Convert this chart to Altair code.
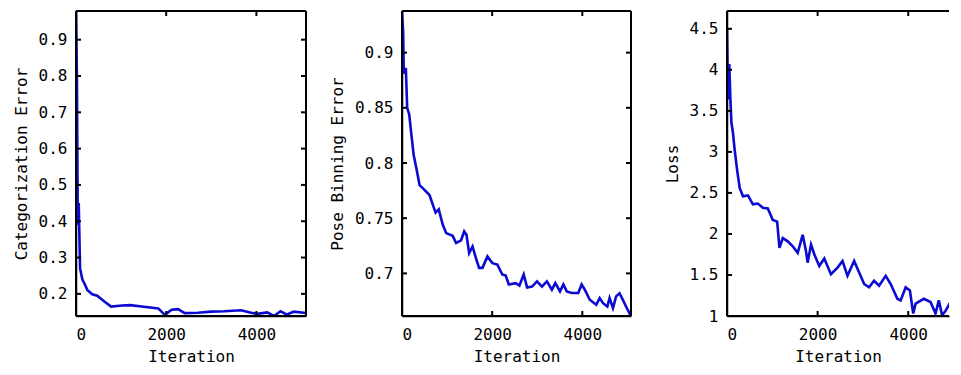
import altair as alt
import pandas as pd

# ---------------- data ----------------
cat_iter = [0, 20, 40, 60, 90, 140, 200, 250, 360, 470, 540, 650, 780, 1020, 1200, 1460,
            1825, 1970, 2120, 2265, 2410, 2700, 3000, 3290, 3660, 3880, 4020, 4240, 4390,
            4535, 4680, 4830, 5050, 5100]
cat_err = [0.979, 0.80, 0.39, 0.45, 0.27, 0.24, 0.225, 0.211, 0.199, 0.195, 0.188, 0.177,
           0.165, 0.168, 0.169, 0.165, 0.160, 0.142, 0.156, 0.158, 0.147, 0.148, 0.151,
           0.152, 0.155, 0.148, 0.145, 0.149, 0.139, 0.152, 0.143, 0.151, 0.148, 0.147]

pose_iter = [0, 25, 40, 85, 115, 160, 210, 260, 320, 390, 465, 610, 685, 745, 815, 905, 980,
             1125, 1200, 1310, 1380, 1430, 1490, 1565, 1640, 1710, 1785, 1895, 2005, 2115,
             2225, 2300, 2370, 2520, 2605, 2700, 2775, 2885, 2995, 3105, 3215, 3325, 3400,
             3505, 3580, 3655, 3765, 3910, 3985, 4055, 4165, 4310, 4385, 4460, 4555, 4605,
             4680, 4750, 4825, 4900, 4970, 5080]
pose_err = [0.937, 0.919, 0.881, 0.886, 0.85, 0.844, 0.825, 0.807, 0.795, 0.78, 0.777,
            0.771, 0.762, 0.755, 0.758, 0.744, 0.7365, 0.734, 0.7275, 0.730, 0.738, 0.735,
            0.7184, 0.7244, 0.7138, 0.705, 0.705, 0.7154, 0.7093, 0.708, 0.699, 0.698, 0.69,
            0.6912, 0.689, 0.699, 0.6873, 0.688, 0.6928, 0.688, 0.6928, 0.6852, 0.6912,
            0.6837, 0.690, 0.6837, 0.6822, 0.6822, 0.690, 0.6852, 0.6761, 0.6716, 0.6777,
            0.673, 0.670, 0.6777, 0.6686, 0.6792, 0.682, 0.676, 0.670, 0.661]

loss_iter = [0, 22, 50, 75, 97, 130, 170, 228, 280, 352, 462, 572, 681, 791, 901, 1011, 1107,
             1158, 1231, 1341, 1451, 1561, 1670, 1744, 1780, 1855, 1928, 2037, 2147, 2294,
             2440, 2550, 2660, 2806, 2917, 3027, 3136, 3246, 3356, 3503, 3613, 3760, 3833,
             3943, 4037, 4110, 4163, 4345, 4492, 4602, 4675, 4748, 4822, 4932, 5010]
loss_val = [4.5, 3.64, 4.07, 3.64, 3.36, 3.24, 3.02, 2.76, 2.56, 2.46, 2.47, 2.36, 2.37, 2.32,
            2.31, 2.17, 2.15, 1.83, 1.95, 1.91, 1.85, 1.77, 1.99, 1.79, 1.65, 1.87, 1.75, 1.61,
            1.70, 1.51, 1.59, 1.67, 1.49, 1.67, 1.53, 1.39, 1.35, 1.43, 1.37, 1.49, 1.39, 1.21,
            1.19, 1.35, 1.31, 1.03, 1.15, 1.21, 1.17, 1.03, 1.19, 1.01, 1.06, 1.17, 1.21]

x_ticks = [0, 2000, 4000]
cat_ticks = [0.2, 0.3, 0.4, 0.5, 0.6, 0.7, 0.8, 0.9]
pose_ticks = [0.7, 0.75, 0.8, 0.85, 0.9]
loss_ticks = [1, 1.5, 2, 2.5, 3, 3.5, 4, 4.5]

FONT = "DejaVu Sans Mono"
BLUE = "#0a0ad2"
H = 305
TICK = 5
LW = 2


def panel(xs, ys, title, yticks, ydom, xdom, W, yfmt, right_border=True):
    df = pd.DataFrame({"iter": xs, "val": ys})
    xs_ = alt.Scale(domain=xdom, nice=False, zero=False)
    ys_ = alt.Scale(domain=ydom, nice=False, zero=False)
    line = alt.Chart(df).mark_line(color=BLUE, strokeWidth=2.6, clip=True).encode(
        x=alt.X("iter:Q", scale=xs_,
                axis=alt.Axis(title="Iteration", values=x_ticks, format="d")),
        y=alt.Y("val:Q", scale=ys_,
                axis=alt.Axis(title=title, values=yticks, format=yfmt)),
    )
    xt = pd.DataFrame({"iter": x_ticks})
    yt = pd.DataFrame({"val": yticks})
    one = pd.DataFrame({"a": [0]})
    top_t = alt.Chart(xt).mark_rule(color="black", strokeWidth=LW).encode(
        x=alt.X("iter:Q", scale=xs_), y=alt.value(0), y2=alt.value(TICK))
    bot_t = alt.Chart(xt).mark_rule(color="black", strokeWidth=LW).encode(
        x=alt.X("iter:Q", scale=xs_), y=alt.value(H - TICK), y2=alt.value(H))
    left_t = alt.Chart(yt).mark_rule(color="black", strokeWidth=LW).encode(
        y=alt.Y("val:Q", scale=ys_), x=alt.value(0), x2=alt.value(TICK))
    top_b = alt.Chart(one).mark_rule(color="black", strokeWidth=LW).encode(
        x=alt.value(0), x2=alt.value(W), y=alt.value(0))
    bot_b = alt.Chart(one).mark_rule(color="black", strokeWidth=LW).encode(
        x=alt.value(0), x2=alt.value(W), y=alt.value(H))
    left_b = alt.Chart(one).mark_rule(color="black", strokeWidth=LW).encode(
        x=alt.value(0), y=alt.value(0), y2=alt.value(H))
    layers = [line, top_t, bot_t, left_t, top_b, bot_b, left_b]
    if right_border:
        right_t = alt.Chart(yt).mark_rule(color="black", strokeWidth=LW).encode(
            y=alt.Y("val:Q", scale=ys_), x=alt.value(W - TICK), x2=alt.value(W))
        right_b = alt.Chart(one).mark_rule(color="black", strokeWidth=LW).encode(
            x=alt.value(W), y=alt.value(0), y2=alt.value(H))
        layers += [right_t, right_b]
    return alt.layer(*layers).properties(width=W, height=H)


p1 = panel(cat_iter, cat_err, "Categorization Error", cat_ticks, [0.139, 0.979],
           [0, 5100], 230, ".1f")
p2 = panel(pose_iter, pose_err, "Pose Binning Error", pose_ticks, [0.6614, 0.9377],
           [0, 5080], 229, "~g")
p3 = panel(loss_iter, loss_val, "Loss", loss_ticks, [1.0, 4.717],
           [0, 4900], 222, "~g", right_border=False)

chart = alt.hconcat(p1, p2, p3, spacing=96, bounds="flush").properties(
    padding={"left": 13, "top": 10, "right": 0, "bottom": 0},
).configure_view(stroke=None).configure_axis(
    grid=False,
    ticks=False,
    tickSize=0,
    domainColor="black",
    domainWidth=1.5,
    labelFont=FONT,
    labelFontSize=16,
    labelColor="black",
    labelPadding=9,
    titleFont=FONT,
    titleFontSize=16,
    titleFontWeight="normal",
    titleColor="black",
    titlePadding=9,
).configure_axisBottom(labelPadding=10, titlePadding=6)

chart.save("out.html", embed_options={"renderer": "svg", "actions": False})
